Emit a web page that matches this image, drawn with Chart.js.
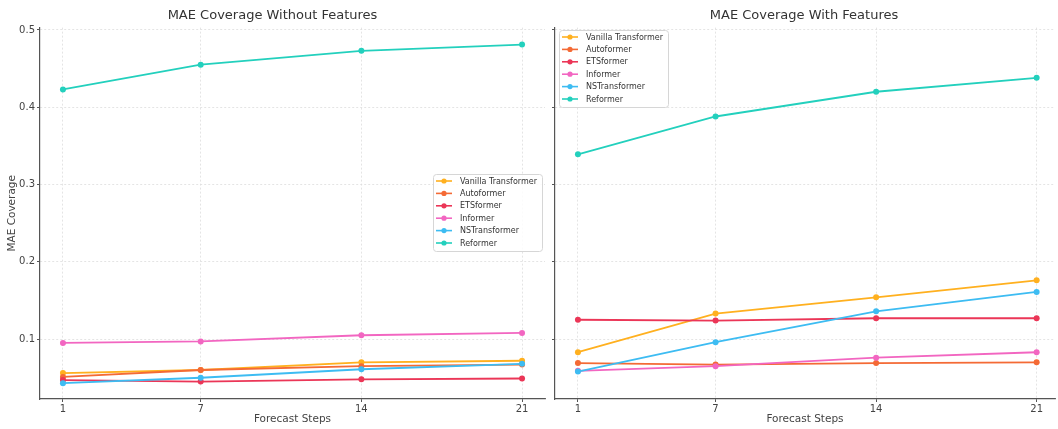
<!DOCTYPE html>
<html><head><meta charset="utf-8">
<script src="https://cdn.jsdelivr.net/npm/chart.js@4.4.1/dist/chart.umd.min.js"></script>
<style>
body{margin:0;background:#fff;width:1058px;height:429px;overflow:hidden;position:relative}
canvas{position:absolute;top:0}
</style></head><body>
<canvas id="c1" width="550" height="429" style="left:0"></canvas>
<canvas id="c2" width="508" height="429" style="left:550px"></canvas>
<script>
const steps = [1, 7, 14, 21];
const models = ['Vanilla Transformer', 'Autoformer', 'ETSformer', 'Informer', 'NSTransformer', 'Reformer'];
const colors = ['#FFB01F', '#F46A35', '#EB3657', '#F266C1', '#3DBCF2', '#23D0BD'];
const yTicks = [0.1, 0.2, 0.3, 0.4, 0.5];

// MAE coverage without features
const noVanilla = [0.056, 0.060, 0.070, 0.072];
const noAuto    = [0.051, 0.060, 0.065, 0.067];
const noETS     = [0.047, 0.045, 0.048, 0.049];
const noInform  = [0.095, 0.097, 0.105, 0.108];
const noNS      = [0.043, 0.050, 0.061, 0.068];
const noReform  = [0.423, 0.455, 0.473, 0.481];

// MAE coverage with features
const wVanilla = [0.083, 0.133, 0.154, 0.176];
const wAuto    = [0.069, 0.067, 0.069, 0.070];
const wETS     = [0.125, 0.124, 0.127, 0.127];
const wInform  = [0.059, 0.065, 0.076, 0.083];
const wNS      = [0.058, 0.096, 0.136, 0.161];
const wReform  = [0.339, 0.388, 0.420, 0.438];

const FONT = "'DejaVu Sans', sans-serif";
Chart.defaults.font.family = FONT;
Chart.defaults.color = '#444';

function makeDatasets(series){
  return series.map((vals, i) => ({
    label: models[i],
    data: vals.map((v, j) => ({x: steps[j], y: v})),
    borderColor: colors[i],
    backgroundColor: colors[i],
    borderWidth: 1.8,
    pointRadius: 3,
    pointHoverRadius: 3,
    pointBorderWidth: 0,
    tension: 0,
    order: series.length - i
  }));
}

const boxLegend = {
  id: 'boxLegend',
  afterDatasetsDraw(chart, args, o){
    const ctx = chart.ctx;
    const {x, y, w, h} = o;
    ctx.save();
    ctx.beginPath();
    if (ctx.roundRect) ctx.roundRect(x + 0.5, y + 0.5, w, h, 3); else ctx.rect(x + 0.5, y + 0.5, w, h);
    ctx.fillStyle = 'rgba(255,255,255,0.85)';
    ctx.fill();
    ctx.strokeStyle = '#d6d6d6';
    ctx.lineWidth = 1;
    ctx.stroke();
    ctx.font = "8px " + FONT;
    ctx.textBaseline = 'middle';
    chart.data.datasets.forEach((ds, i) => {
      const cy = y + 7 + i * 12.4;
      ctx.strokeStyle = ds.borderColor;
      ctx.lineWidth = 1.6;
      ctx.beginPath();
      ctx.moveTo(x + 3, cy); ctx.lineTo(x + 19, cy); ctx.stroke();
      ctx.fillStyle = ds.borderColor;
      ctx.beginPath(); ctx.arc(x + 11, cy, 2.6, 0, Math.PI * 2); ctx.fill();
      ctx.fillStyle = '#333';
      ctx.fillText(ds.label, x + 27, cy + 0.5);
    });
    ctx.restore();
  }
};

function makeChart(id, title, series, leftAxis, xMax, legendPos){
  return new Chart(document.getElementById(id), {
    type: 'line',
    data: {datasets: makeDatasets(series)},
    plugins: [boxLegend],
    options: {
      responsive: false,
      animation: false,
      layout: {padding: {left: 0, right: leftAxis ? 5 : 0, top: 0, bottom: 0}},
      plugins: {
        legend: {display: false},
        tooltip: {enabled: false},
        title: {display: true, text: title, color: '#333', font: {size: 13, weight: 'normal'}, padding: {top: 8, bottom: 4}},
        boxLegend: legendPos
      },
      scales: {
        x: {
          type: 'linear', min: 0, max: xMax,
          afterBuildTicks: s => { s.ticks = steps.map(v => ({value: v})); },
          afterFit: s => { s.height = 30; },
          ticks: {font: {size: 10}, color: '#444', padding: 1, maxRotation: 0, callback: v => String(v)},
          grid: {color: '#dedede', lineWidth: 0.8, tickLength: 3, tickColor: '#555', tickWidth: 1},
          border: {display: true, color: '#555', width: 1.2, dash: [2, 2]},
          title: {display: true, text: 'Forecast Steps', color: '#444', font: {size: 10.5}, padding: {top: 0, bottom: 3}}
        },
        y: {
          type: 'linear', min: 0.0225, max: 0.503,
          afterBuildTicks: s => { s.ticks = yTicks.map(v => ({value: v})); },
          afterFit: s => { s.width = leftAxis ? 40 : 5; },
          ticks: {display: leftAxis, font: {size: 10}, color: '#444', padding: 2, callback: v => v.toFixed(1)},
          grid: {color: '#dedede', lineWidth: 0.8, tickLength: 3, tickColor: '#555', tickWidth: 1},
          border: {display: true, color: '#555', width: 1.2, dash: [2, 2]},
          title: {display: leftAxis, text: 'MAE Coverage', color: '#444', font: {size: 10.5}, padding: {top: 6, bottom: 0}}
        }
      }
    }
  });
}

makeChart('c1', 'MAE Coverage Without Features',
  [noVanilla, noAuto, noETS, noInform, noNS, noReform], true, 22,
  {x: 433, y: 174, w: 109, h: 77});
makeChart('c2', 'MAE Coverage With Features',
  [wVanilla, wAuto, wETS, wInform, wNS, wReform], false, 21.8,
  {x: 9, y: 30, w: 109, h: 77});
</script>
</body></html>
